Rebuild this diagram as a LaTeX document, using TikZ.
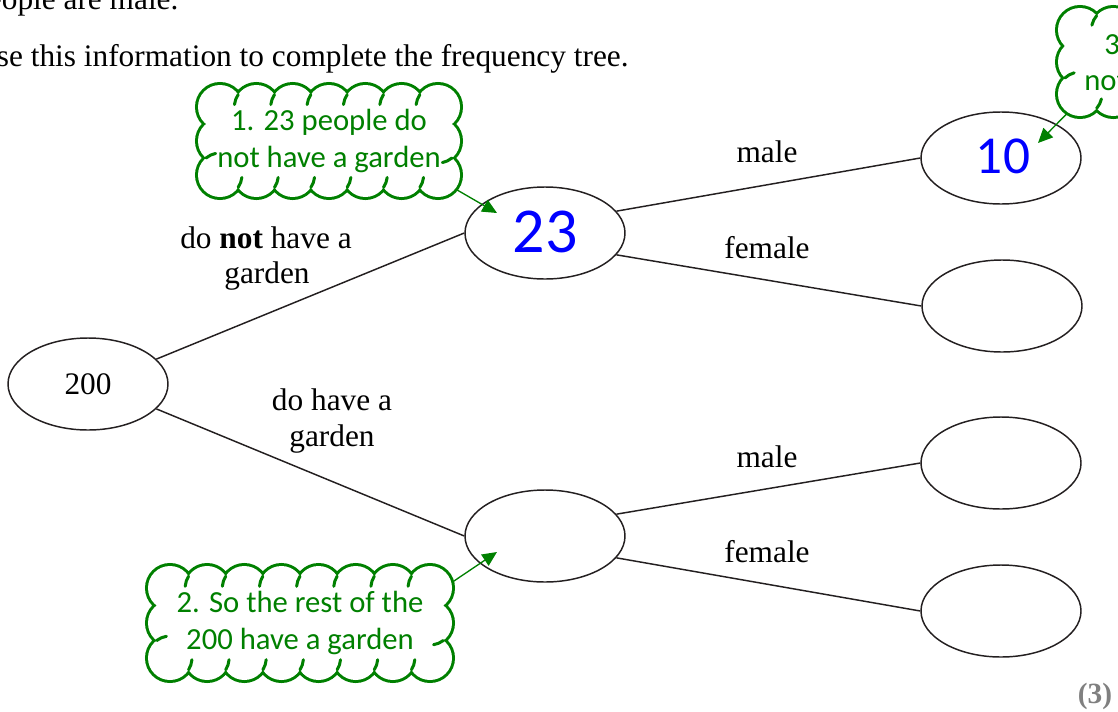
\documentclass[tikz,border=0pt]{standalone}
\usepackage{fontspec}
\setmainfont{Liberation Serif}
\newfontfamily\notefont{Carlito}
\usetikzlibrary{shapes.geometric,arrows.meta}
\definecolor{notegreen}{RGB}{0,128,0}
\definecolor{ink}{RGB}{0,0,255}
\definecolor{linegray}{RGB}{35,31,32}
\definecolor{markgray}{RGB}{128,128,128}

% Scalloped note cloud made of overlapping puffs.
% #1 cx, #2 cy, #3 width, #4 height, #5 puffs along top minus one, #6 puffs per side, #7 puff radius
\newcommand\cloudnote[7]{%
\begin{scope}[shift={(#1,#2)},x=0.75pt,y=0.75pt]
  \pgfmathsetmacro\cnA{#3/2-#7}
  \pgfmathsetmacro\cnB{#4/2-#7}
  \pgfmathsetmacro\cnDx{2*\cnA/#5}
  \pgfmathsetmacro\cnDy{2*\cnB/(#6+1)}
  \pgfmathsetmacro\cnAl{acos(\cnDx/(2*#7))}
  \pgfmathsetmacro\cnGa{acos(\cnDy/(2*#7))}
  \draw[notegreen,line width=4.5pt]
    foreach \i in {0,...,#5} {({-\cnA+\i*\cnDx},\cnB) circle[radius=#7] ({-\cnA+\i*\cnDx},-\cnB) circle[radius=#7]}
    foreach \j in {1,...,#6} {(-\cnA,{-\cnB+\j*\cnDy}) circle[radius=#7] (\cnA,{-\cnB+\j*\cnDy}) circle[radius=#7]};
  \fill[white]
    foreach \i in {0,...,#5} {({-\cnA+\i*\cnDx},\cnB) circle[radius=#7] ({-\cnA+\i*\cnDx},-\cnB) circle[radius=#7]}
    foreach \j in {1,...,#6} {(-\cnA,{-\cnB+\j*\cnDy}) circle[radius=#7] (\cnA,{-\cnB+\j*\cnDy}) circle[radius=#7]};
  \fill[white] (-\cnA,-\cnB) rectangle (\cnA,\cnB);
  % short inner strokes running on from the outer cusps
  \draw[notegreen,line width=2.25pt,line cap=round]
    foreach \i in {1,...,#5} {
      ({-\cnA+\i*\cnDx+#7*cos(180-\cnAl)},{\cnB+#7*sin(180-\cnAl)}) arc[start angle=180-\cnAl,end angle=208-\cnAl,radius=#7]
      ({-\cnA+(\i-1)*\cnDx+#7*cos(-\cnAl)},{-\cnB+#7*sin(-\cnAl)}) arc[start angle=-\cnAl,end angle=28-\cnAl,radius=#7]}
    foreach \j in {1,...,#6} {
      ({-\cnA+#7*cos(90+\cnGa)},{-\cnB+(\j-1)*\cnDy+#7*sin(90+\cnGa)}) arc[start angle=90+\cnGa,end angle=62+\cnGa,radius=#7]
      ({\cnA+#7*cos(270+\cnGa)},{-\cnB+\j*\cnDy+#7*sin(270+\cnGa)}) arc[start angle=270+\cnGa,end angle=242+\cnGa,radius=#7]};
\end{scope}}

\begin{document}
\begin{tikzpicture}[x=0.75pt,y=-0.75pt,
  freq/.style={ellipse,draw=linegray,line width=1.1pt,minimum width=120pt,minimum height=69pt,inner sep=0pt},
  branch/.style={draw=linegray,line width=1.1pt},
  lbl/.style={font=\fontsize{23.5}{28}\selectfont,anchor=base,inner sep=0pt},
  notetext/.style={text=notegreen,font=\notefont\fontsize{23}{27.5}\selectfont,align=center,inner sep=0pt},
  pointer/.style={notegreen,line width=1pt,-{Triangle[length=11pt,width=10pt]}},
  hand/.style={text=ink,font=\notefont\fontsize{48}{48}\selectfont,inner sep=0pt}]
\useasboundingbox (0,0) rectangle (1118,711);
\clip (0,0) rectangle (1118,711);

% question text
\node[lbl,anchor=base west] (q1) at (-28,9) {people are male.};
\node[lbl,anchor=base west] (q2) at (-26,66) {Use this information to complete the frequency tree.};

% frequency tree
\node[freq] (root) at (88,384) {\fontsize{23.5}{28}\selectfont 200};
\node[freq] (nog) at (545,233) {};
\node[freq] (hasg) at (545,536) {};
\node[freq] (nogm) at (1001,158) {};
\node[freq] (nogf) at (1002,306) {};
\node[freq] (hasgm) at (1001,463) {};
\node[freq] (hasgf) at (1001,611) {};

\draw[branch] (root.20) -- (nog.west);
\draw[branch] (root.-20) -- (hasg.west);
\draw[branch] (nog.17) -- (nogm.west);
\draw[branch] (nog.-17) -- (nogf.west);
\draw[branch] (hasg.17) -- (hasgm.west);
\draw[branch] (hasg.-17) -- (hasgf.west);

% branch labels
\node[lbl] (l1a) at (266,248) {do \textbf{not} have a};
\node[lbl] (l1b) at (267,283) {garden};
\node[lbl] (l2a) at (332,410) {do have a};
\node[lbl] (l2b) at (332,446) {garden};
\node[lbl] (l3) at (767,162) {male};
\node[lbl] (l4) at (767,258) {female};
\node[lbl] (l5) at (767,467) {male};
\node[lbl] (l6) at (767,562) {female};

% handwritten answers
\node[hand] (a23) at (545,232) {23};
\node[hand,font=\notefont\fontsize{40}{40}\selectfont] (a10) at (1003,156) {10};

% pointers from the notes (tails hidden under the clouds)
\coordinate (c1tail) at (400,157);
\coordinate (c2tail) at (405,614);
\coordinate (c3tail) at (1100,80);
\coordinate (t1) at (497,213);
\coordinate (t2) at (497,552);
\coordinate (t3) at (1038,143);
\draw[pointer] (c1tail) -- (t1);
\draw[pointer] (c2tail) -- (t2);
\draw[pointer] (c3tail) -- (t3);

% working notes
\cloudnote{329}{141}{262}{112}{6}{1}{22}
\node[notetext] (c1) at (329,141) {1. 23 people do\\not have a garden};
\cloudnote{300}{623}{304}{114}{7}{1}{22}
\node[notetext] (c2) at (300,623) {2. So the rest of the\\200 have a garden};
\cloudnote{1180}{62}{244}{108}{6}{1}{22}
\node[notetext,anchor=base west] (c3a) at (1104,54) {3.};
\node[notetext,anchor=base west] (c3b) at (1084,90) {not};

% marks
\node[lbl,text=markgray,font=\bfseries\fontsize{22}{26}\selectfont] (mk) at (1095,703) {(3)};
\end{tikzpicture}
\end{document}
